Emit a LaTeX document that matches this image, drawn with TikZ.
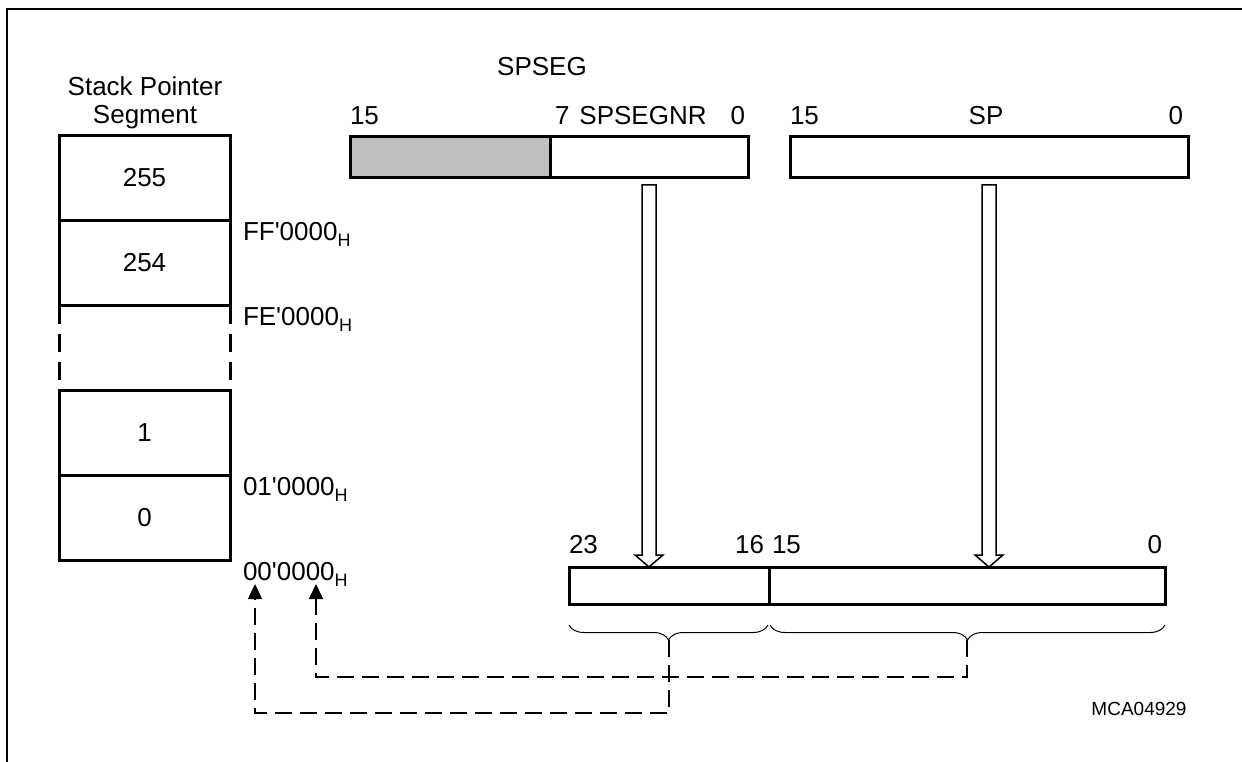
\documentclass[tikz,border=0pt]{standalone}
\usepackage{fontspec}
\setmainfont{Liberation Sans}
\usetikzlibrary{arrows.meta,calc,decorations.pathreplacing}
\definecolor{padgray}{RGB}{190,192,194}
\newcommand\hsub{\raisebox{-6pt}{\fontsize{18}{18}\selectfont H}}
\newcommand\addr[1]{#1\textquotesingle 0000\hsub}

\begin{document}
\begin{tikzpicture}[x=1pt,y=-1pt,
    every node/.style={font=\fontsize{26}{30}\selectfont, inner sep=0pt, outer sep=0pt},
    cell/.style={draw, line width=3pt, minimum width=171pt, minimum height=85pt},
    field/.style={draw, line width=3pt, minimum height=41pt},
    hollow/.style={draw, line width=1.5pt, fill=white, line join=miter},
    link/.style={line width=1.6pt, dash pattern=on 17pt off 8pt, -{Triangle[width=14pt,length=15pt]}},
    curly/.style={decorate, decoration={brace, mirror, amplitude=15pt}, line width=1pt}]
    \useasboundingbox (0,0) rectangle (1242,762);
    % frame (top and left edge only)
    \draw[line width=1.5pt] (7,762) -- (7,9) -- (1242,9);

    % stack pointer segments
    \node (headA) [anchor=base] at (145,96) {Stack Pointer};
    \node (headB) [anchor=base] at (145,124) {Segment};
    \node[cell] (s255) at (144.5,178) {255};
    \node[cell] (s254) at (144.5,263) {254};
    \node[cell] (s1) at (144.5,433) {1};
    \node[cell] (s0) at (144.5,518) {0};
    \foreach \side in {west,east}
      \draw[line width=3pt, dash pattern=on 18pt off 10pt] (s254.south \side) -- (s1.north \side);
    \foreach \c/\a in {s255/FF,s254/FE,s1/01,s0/00}
      \node[anchor=base west] (adr\a) at ($(\c.south east)+(13,20)$) {\addr{\a}};

    % SPSEG and SP registers
    \node (spseg) [anchor=base] at (542,76) {SPSEG};
    \node[field, fill=padgray, minimum width=200pt] (pad) at (450,157.5) {};
    \node[field, minimum width=198pt] (segnr) at (649,157.5) {};
    \node[field, minimum width=398pt] (sp) at (989,157.5) {};
    \node (b15a) [anchor=base west] at (350,125) {15};
    \node (b7) [anchor=base west] at (555,125) {7};
    \node (nsegnr) [anchor=base] at (643,125) {SPSEGNR};
    \node (b0a) [anchor=base east] at (745,125) {0};
    \node (b15b) [anchor=base west] at (790,125) {15};
    \node (nsp) [anchor=base] at (986,125) {SP};
    \node (b0b) [anchor=base east] at (1183,125) {0};

    % 24-bit stack address
    \node[field, minimum height=37pt, minimum width=200pt] (hi) at (669,585.5) {};
    \node[field, minimum height=37pt, minimum width=396pt] (lo) at (967,585.5) {};
    \node (b23) [anchor=base west] at (569,553) {23};
    \node (b16) [anchor=base east] at (764,553) {16};
    \node (b15c) [anchor=base west] at (772,553) {15};
    \node (b0c) [anchor=base east] at (1162,553) {0};

    % hollow arrows register -> address
    \foreach \src/\dst in {segnr/hi,sp/lo} {
      \coordinate (top) at ($(\src.south)+(0,7)$);
      \coordinate (tip) at (\src.south |- \dst.north);
      \draw[hollow] ($(top)+(-7,0)$) -- ($(top)+(7,0)$) -- ($(tip)+(7,-12)$)
        -- ($(tip)+(14,-12)$) -- (tip) -- ($(tip)+(-14,-12)$) -- ($(tip)+(-7,-12)$) -- cycle;
    }

    % braces and dashed links back to the segment table
    \draw[curly] ($(hi.south west)+(0,21)$) -- ($(hi.south east)+(-1,21)$);
    \draw[curly] ($(lo.south west)+(1,21)$) -- ($(lo.south east)+(0,21)$);
    \coordinate (hitip) at ($(hi.south)+(0,36)$);
    \coordinate (lotip) at ($(lo.south)+(0,36)$);
    \coordinate (inA) at (255,584);
    \coordinate (inB) at (316,584);
    \draw[link] (hitip) -- ++(0,73) -| (inA);
    \draw[link] (lotip) -- ++(0,37) -| (inB);

    \node (fig) [anchor=base, font=\fontsize{19}{21}\selectfont] at (1139,715) {MCA04929};
\end{tikzpicture}
\end{document}
